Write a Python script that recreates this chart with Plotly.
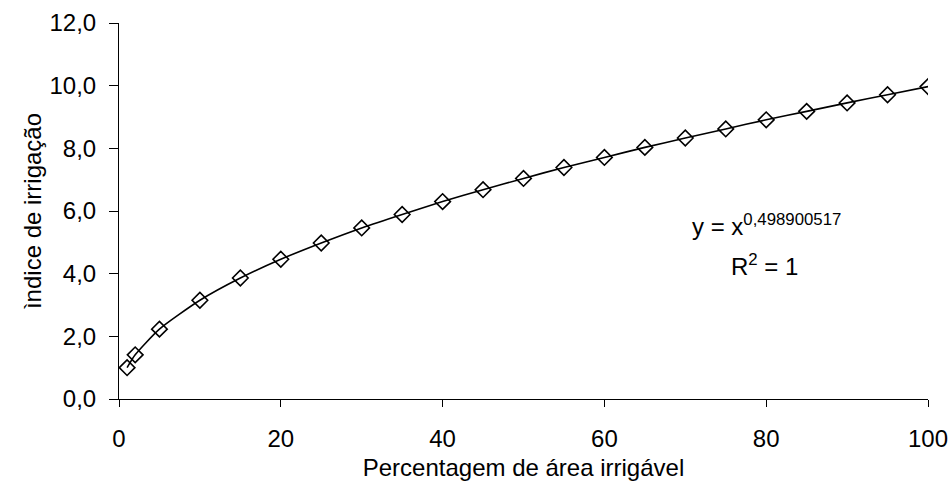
import plotly.graph_objects as go

# Percentage of irrigable area and the corresponding irrigation index
area_pct = [1, 2, 5, 10, 15, 20, 25, 30, 35, 40, 45, 50, 55, 60, 65, 70, 75, 80, 85, 90, 95, 100]
indice = [1.00, 1.41, 2.23, 3.15, 3.86, 4.46, 4.98, 5.46, 5.89, 6.30, 6.68,
          7.04, 7.39, 7.71, 8.03, 8.33, 8.62, 8.91, 9.18, 9.45, 9.71, 9.97]

x_ticks = [0, 20, 40, 60, 80, 100]
y_ticks = [0, 2, 4, 6, 8, 10, 12]

font_family = "Liberation Sans, Arial, sans-serif"
fsize = 24

fig = go.Figure()
fig.add_trace(go.Scatter(
    x=area_pct, y=indice,
    mode="lines+markers",
    line=dict(color="black", width=1.6, shape="spline", smoothing=0.6),
    marker=dict(symbol="diamond-open", size=12, color="black",
                line=dict(color="black", width=1.6)),
    showlegend=False,
))

fig.add_annotation(x=0.80, y=0.462, xref="paper", yref="paper",
                   text="y = x<sup>0,498900517</sup>", showarrow=False,
                   xanchor="center", yanchor="middle",
                   font=dict(family=font_family, size=fsize, color="black"))
fig.add_annotation(x=0.798, y=0.357, xref="paper", yref="paper",
                   text="R<sup>2</sup> = 1", showarrow=False,
                   xanchor="center", yanchor="middle",
                   font=dict(family=font_family, size=fsize, color="black"))

axis_common = dict(showline=True, linecolor="black", linewidth=1,
                   ticks="outside", tickcolor="black", tickwidth=1,
                   showgrid=False, zeroline=False, automargin=False,
                   tickfont=dict(family=font_family, size=fsize, color="black"))

fig.update_layout(
    width=951, height=498,
    margin=dict(l=119, r=23, t=23, b=99),
    paper_bgcolor="white", plot_bgcolor="white",
    separators=",.",
    xaxis=dict(range=[0, 100], tickvals=x_ticks, ticklen=7, ticklabelstandoff=11,
               title=dict(text="Percentagem de área irrigável", standoff=8,
                          font=dict(family=font_family, size=fsize, color="black")),
               **axis_common),
    yaxis=dict(range=[0, 12], tickvals=y_ticks, tickformat=".1f", ticklen=9,
               ticklabelstandoff=8,
               title=dict(text="ìndice de irrigação", standoff=1,
                          font=dict(family=font_family, size=fsize, color="black")),
               **axis_common),
)

fig.write_html("out.html")
